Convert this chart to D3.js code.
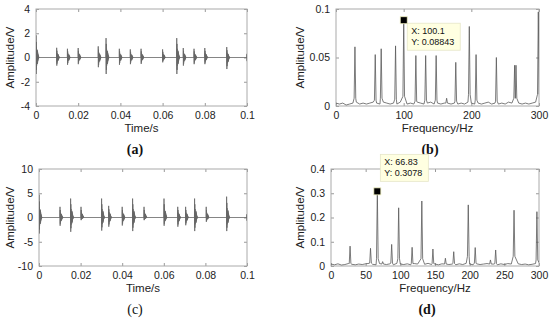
<!DOCTYPE html>
<html>
<head>
<meta charset="utf-8">
<script src="https://cdn.jsdelivr.net/npm/d3@7"></script>
<style>
  body { margin: 0; background: #fff; }
  svg { display: block; }
  .tick text { font-family: "Liberation Sans", Arial, sans-serif; font-size: 10.5px; fill: #222; }
</style>
</head>
<body>
<div id="chart"></div>
<script>
// ---- data ----

// time-domain bursts, panel (a): start time (s), positive peak (V), negative peak (V)
const burstTimesA = [0, 0.0098, 0.0149, 0.0200, 0.0295, 0.0332, 0.0395, 0.0447, 0.0498, 0.0600, 0.0667, 0.0698, 0.0749, 0.0800, 0.0904, 0.1000];
const burstUpA    = [1.83, 0.8, 0.72, 0.78, 0.92, 1.6, 0.72, 0.67, 0.72, 0.67, 1.6, 0.78, 0.72, 0.78, 0.86, 0.3];
const burstDownA  = [-1.36, -0.67, -0.6, -0.55, -0.8, -1.36, -0.6, -0.55, -0.53, -0.4, -1.36, -0.67, -0.55, -0.55, -0.95, -0.3];

// time-domain bursts, panel (c)
const burstTimesC = [0, 0.0101, 0.0152, 0.0202, 0.0301, 0.0335, 0.0400, 0.0450, 0.0505, 0.0601, 0.0667, 0.0705, 0.0748, 0.0804, 0.0902, 0.1000];
const burstUpC    = [4.7, 2.2, 3.9, 2.2, 3.9, 2.4, 2.2, 3.9, 2.2, 3.9, 2.2, 2.2, 3.9, 2.2, 4.3, 0.7];
const burstDownC  = [-3.3, -1.7, -2.95, -0.55, -2.7, -1.9, -1.65, -2.8, -0.55, -1.7, -1.9, -1.6, -2.8, -0.9, -2.8, -0.7];

// shape of one burst (relative to its peaks), one value per sample
const burstShape = [1, -1, 0.7, -0.75, 0.45, -0.5, 0.3, -0.35, 0.25, -0.3, 0.35, -0.4, 0.3, -0.3, 0.22, -0.2, 0.15, -0.12, 0.1, -0.08, 0.06, -0.04, 0.03, -0.02, 0];
const burstStep = 0.00006;

// spectrum (b): peaks
const peakFreqB = [28, 58, 66.8, 88, 100.1, 118, 132.5, 148, 163.5, 177, 197, 207, 237, 264, 266, 299];
const peakAmpB  = [0.061, 0.053, 0.059, 0.062, 0.08843, 0.052, 0.052, 0.052, 0.008, 0.045, 0.082, 0.053, 0.050, 0.042, 0.042, 0.097];
const peakBaseB = [0.008, 0.006, 0.008, 0.007, 0.010, 0.005, 0.006, 0.006, 0.003, 0.005, 0.012, 0.006, 0.005, 0.008, 0.008, 0.012];
// spectrum (b): noise floor, every 5 Hz from 0 to 300
const floorB = [0.003, 0.002, 0.003, 0.001, 0.002, 0.003, 0.004, 0.002, 0.003, 0.002, 0.003, 0.004, 0.003, 0.002, 0.004,
  0.003, 0.002, 0.003, 0.002, 0.004, 0.003, 0.002, 0.003, 0.002, 0.004, 0.003, 0.002, 0.003, 0.004, 0.002,
  0.003, 0.002, 0.003, 0.004, 0.002, 0.003, 0.002, 0.003, 0.002, 0.004, 0.003, 0.002, 0.003, 0.002, 0.003,
  0.004, 0.002, 0.003, 0.002, 0.003, 0.002, 0.004, 0.003, 0.002, 0.003, 0.002, 0.003, 0.002, 0.003, 0.004, 0.006];

// spectrum (d): peaks
const peakFreqD = [27.5, 57, 66.83, 74.5, 87.5, 97.6, 117, 131, 147, 165, 177, 198, 208, 230, 237.5, 264, 297];
const peakAmpD  = [0.082, 0.073, 0.3078, 0.018, 0.089, 0.24, 0.077, 0.268, 0.070, 0.032, 0.059, 0.252, 0.076, 0.025, 0.066, 0.23, 0.224];
const peakBaseD = [0.010, 0.012, 0.030, 0.008, 0.012, 0.030, 0.010, 0.030, 0.010, 0.008, 0.010, 0.040, 0.012, 0.008, 0.010, 0.040, 0.025];
// spectrum (d): noise floor, every 5 Hz from 0 to 300
const floorD = [0.008, 0.005, 0.009, 0.004, 0.006, 0.010, 0.007, 0.005, 0.008, 0.006, 0.009, 0.011, 0.007, 0.005, 0.010,
  0.008, 0.006, 0.009, 0.005, 0.011, 0.008, 0.006, 0.009, 0.005, 0.010, 0.008, 0.006, 0.007, 0.011, 0.006,
  0.008, 0.005, 0.009, 0.010, 0.006, 0.008, 0.005, 0.009, 0.006, 0.011, 0.008, 0.005, 0.009, 0.006, 0.008,
  0.010, 0.006, 0.008, 0.005, 0.009, 0.006, 0.010, 0.008, 0.005, 0.009, 0.006, 0.008, 0.005, 0.007, 0.010, 0.014];

// ticks
const timeTicks = [0, 0.02, 0.04, 0.06, 0.08, 0.1];
const ampTicksA = [-4, -2, 0, 2, 4];
const ampTicksC = [-10, -5, 0, 5, 10];
const freqTicksB = [0, 100, 200, 300];
const freqTicksD = [0, 50, 100, 150, 200, 250, 300];
const specTicksB = [0, 0.05, 0.1];
const specTicksD = [0, 0.1, 0.2, 0.3, 0.4];

// data tips
const tipB = {x: 100.1, y: 0.08843};
const tipD = {x: 66.83, y: 0.3078};

// ---- drawing ----
const width = 550, height = 322;
const svg = d3.select('#chart').append('svg')
    .attr('width', width)
    .attr('height', height);

const labelFont = '"Liberation Sans", Arial, sans-serif';

// sets up one panel: box, inward ticks on all four sides, labels
function panel(id, box, xDomain, yDomain, xTicks, yTicks, xLabel, yLabelX, letter, letterBold, letterX) {
    const x = d3.scaleLinear().domain(xDomain).range([box.left, box.right]);
    const y = d3.scaleLinear().domain(yDomain).range([box.bottom, box.top]);
    const fmt = d => String(d);

    svg.append('clipPath').attr('id', 'clip-' + id)
        .append('rect')
        .attr('x', box.left).attr('y', box.top)
        .attr('width', box.right - box.left).attr('height', box.bottom - box.top);

    const g = svg.append('g');

    g.append('g')
        .attr('transform', `translate(0,${box.bottom})`)
        .call(d3.axisBottom(x).tickValues(xTicks).tickFormat(fmt).tickSizeInner(-3).tickSizeOuter(0).tickPadding(6));
    g.append('g')
        .attr('transform', `translate(0,${box.top})`)
        .call(d3.axisTop(x).tickValues(xTicks).tickFormat('').tickSizeInner(-3).tickSizeOuter(0));
    g.append('g')
        .attr('transform', `translate(${box.left},0)`)
        .call(d3.axisLeft(y).tickValues(yTicks).tickFormat(fmt).tickSizeInner(-3).tickSizeOuter(0).tickPadding(6));
    g.append('g')
        .attr('transform', `translate(${box.right},0)`)
        .call(d3.axisRight(y).tickValues(yTicks).tickFormat('').tickSizeInner(-3).tickSizeOuter(0));

    g.selectAll('.domain').remove();
    g.selectAll('.tick line').attr('stroke', '#999');

    g.append('rect')
        .attr('x', box.left).attr('y', box.top)
        .attr('width', box.right - box.left).attr('height', box.bottom - box.top)
        .attr('fill', 'none')
        .attr('stroke', '#aaa')
        .attr('stroke-width', 1);

    // x label
    g.append('text')
        .attr('x', (box.left + box.right) / 2)
        .attr('y', box.bottom + 26)
        .attr('text-anchor', 'middle')
        .attr('font-family', labelFont)
        .attr('font-size', '11.5px')
        .attr('fill', '#222')
        .text(xLabel);

    // y label
    g.append('text')
        .attr('transform', `translate(${yLabelX},${(box.top + box.bottom) / 2}) rotate(-90)`)
        .attr('text-anchor', 'middle')
        .attr('font-family', labelFont)
        .attr('font-size', '11.5px')
        .attr('fill', '#222')
        .text('Amplitude/V');

    // panel letter
    g.append('text')
        .attr('x', letterX)
        .attr('y', box.bottom + 48)
        .attr('text-anchor', 'middle')
        .attr('font-family', '"Liberation Serif", "Times New Roman", serif')
        .attr('font-size', '14px')
        .attr('font-weight', letterBold ? 'bold' : 'normal')
        .attr('fill', '#111')
        .text('(' + letter + ')');

    return {x, y, g};
}

// builds the sample list of a burst train
function burstSeries(times, ups, downs, tEnd) {
    const pts = [[0, 0]];
    times.forEach((t0, i) => {
        pts.push([t0 - burstStep, 0]);
        burstShape.forEach((s, k) => {
            pts.push([t0 + k * burstStep, s >= 0 ? s * ups[i] : -s * downs[i]]);
        });
    });
    pts.push([tEnd + 0.002, 0]);
    return pts;
}

// builds the spectrum line from floor + peaks
function spectrumSeries(floor, freqs, amps, bases) {
    const pts = [];
    floor.forEach((v, i) => {
        const f = i * 5;
        if (!freqs.some(p => Math.abs(p - f) < 1.6)) pts.push([f, v]);
    });
    freqs.forEach((f, i) => {
        pts.push([f - 1.2, bases[i]]);
        pts.push([f, amps[i]]);
        pts.push([f + 1.2, bases[i]]);
    });
    return pts.sort((a, b) => a[0] - b[0]);
}

function drawLine(p, id, pts, color) {
    p.g.append('path')
        .datum(pts)
        .attr('clip-path', `url(#clip-${id})`)
        .attr('fill', 'none')
        .attr('stroke', color)
        .attr('stroke-width', 0.8)
        .attr('d', d3.line().x(d => p.x(d[0])).y(d => p.y(d[1])));
}

function dataTip(p, tip, dx, dy, bw) {
    const mx = p.x(tip.x), my = p.y(tip.y);
    const bh = 27;
    const bx = mx + dx, by = my + dy;
    p.g.append('rect')
        .attr('x', bx).attr('y', by)
        .attr('width', bw).attr('height', bh)
        .attr('fill', '#ffffe1')
        .attr('stroke', '#e6e6c8')
        .attr('stroke-width', 0.8);
    p.g.append('rect')
        .attr('x', mx - 3.5).attr('y', my - 3.5)
        .attr('width', 7).attr('height', 7)
        .attr('fill', '#000')
        .attr('stroke', '#f0f0c0')
        .attr('stroke-width', 0.8);
    [`X: ${tip.x}`, `Y: ${tip.y}`].forEach((t, i) => {
        p.g.append('text')
            .attr('x', bx + 4)
            .attr('y', by + 11 + i * 11)
            .attr('font-family', labelFont)
            .attr('font-size', '9px')
            .attr('fill', '#111')
            .text(t);
    });
}

// (a)
const pa = panel('a', {left: 36, right: 247, top: 9, bottom: 106}, [0, 0.1], [-4, 4],
    timeTicks, ampTicksA, 'Time/s', 14, 'a', true, 135);
drawLine(pa, 'a', burstSeries(burstTimesA, burstUpA, burstDownA, 0.1), '#666');

// (b)
const pb = panel('b', {left: 336, right: 539, top: 9, bottom: 106}, [0, 300], [0, 0.1],
    freqTicksB, specTicksB, 'Frequency/Hz', 304, 'b', true, 430);
drawLine(pb, 'b', spectrumSeries(floorB, peakFreqB, peakAmpB, peakBaseB), '#5a5a5a');
dataTip(pb, tipB, 3.5, 3, 53);

// (c)
const pc = panel('c', {left: 39, right: 247, top: 169, bottom: 266}, [0, 0.1], [-10, 10],
    timeTicks, ampTicksC, 'Time/s', 14, 'c', false, 135);
drawLine(pc, 'c', burstSeries(burstTimesC, burstUpC, burstDownC, 0.1), '#666');

// (d)
const pd = panel('d', {left: 331, right: 539, top: 169, bottom: 266}, [0, 300], [0, 0.4],
    freqTicksD, specTicksD, 'Frequency/Hz', 304, 'd', true, 427);
drawLine(pd, 'd', spectrumSeries(floorD, peakFreqD, peakAmpD, peakBaseD), '#5a5a5a');
dataTip(pd, tipD, 3, -37, 48);
</script>
</body>
</html>
